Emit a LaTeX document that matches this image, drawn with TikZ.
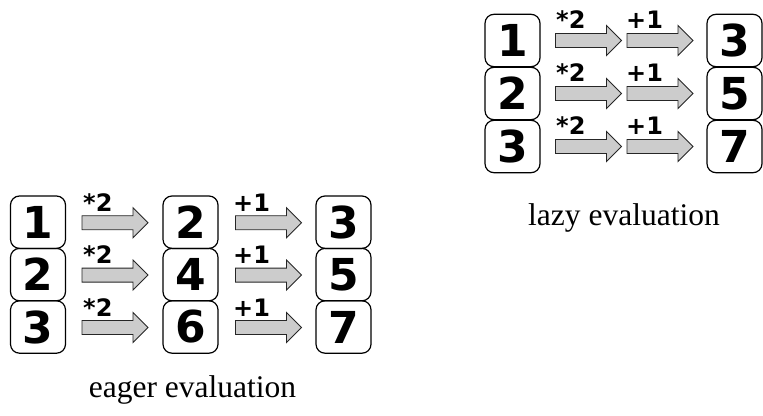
\documentclass[tikz,border=0pt]{standalone}
\usepackage{fontspec}
\setmainfont{Liberation Serif}
\newfontfamily\djb{DejaVu Sans Bold}
\definecolor{arrowfill}{RGB}{204,204,204}
\tikzset{
  numbox/.style={draw, line width=1.2pt, rounded corners=9pt, minimum width=55pt, minimum height=52.4pt, inner sep=0pt, font=\djb\fontsize{44}{44}\selectfont},
  blockarrow/.style={draw=black!85, line width=0.9pt, fill=arrowfill, line join=miter},
  oplabel/.style={anchor=base west, inner sep=0pt, font=\djb\fontsize{24}{24}\selectfont},
  caption/.style={anchor=base, inner sep=0pt, font=\fontsize{31.5}{32}\selectfont}
}
\newcommand{\blockarr}[1]{\draw[blockarrow] (#1) ++(-33,-7) -- ++(51,0) -- ++(0,-8) -- ++(15,15) -- ++(-15,15) -- ++(0,-8) -- ++(-51,0) -- cycle;}
\begin{document}
\begin{tikzpicture}[x=1pt, y=-1pt]
\useasboundingbox (0,0) rectangle (763,415);
% eager evaluation
\foreach \r/\y/\a/\b/\c in {1/222.2/1/2/3, 2/274.6/2/4/5, 3/327/3/6/7} {
  \node[numbox] (ea\r) at (38,\y) {\a};
  \node[numbox] (eb\r) at (190.5,\y) {\b};
  \node[numbox] (ec\r) at (343.5,\y) {\c};
  \coordinate (ex\r) at (115,\y+0.5);
  \coordinate (ey\r) at (268.5,\y+0.5);
  \blockarr{ex\r}
  \blockarr{ey\r}
  \node[oplabel] (exl\r) at (83,\y-11) {*2};
  \node[oplabel] (eyl\r) at (233,\y-11) {+1};
}
\node[caption] (eager) at (192.5,397) {eager evaluation};
% lazy evaluation
\foreach \r/\y/\a/\c in {1/40.5/1/3, 2/93.5/2/5, 3/146.5/3/7} {
  \node[numbox] (la\r) at (512.5,\y) {\a};
  \node[numbox] (lc\r) at (734.5,\y) {\c};
  \coordinate (lx\r) at (588.5,\y);
  \coordinate (ly\r) at (660,\y);
  \blockarr{lx\r}
  \blockarr{ly\r}
  \node[oplabel] (lxl\r) at (556,\y-12) {*2};
  \node[oplabel] (lyl\r) at (626,\y-12) {+1};
}
\node[caption] (lazy) at (624,225) {lazy evaluation};
\end{tikzpicture}
\end{document}
